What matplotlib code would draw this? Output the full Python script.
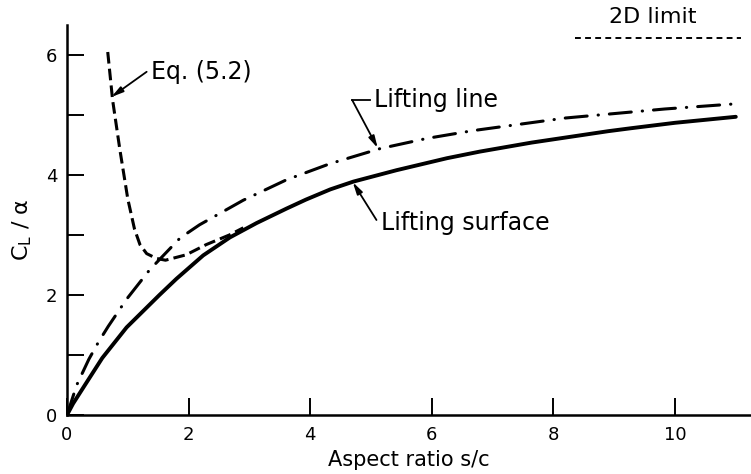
import numpy as np
import matplotlib
matplotlib.use("Agg")
import matplotlib.pyplot as plt

# Valores (C_L/alpha em função do alongamento s/c)
surf_x = [0, 0.1, 0.27, 0.58, 0.98, 1.52, 1.80, 2.24, 2.68, 3.12, 3.61, 3.93, 4.33, 4.71,
          5.42, 6.25, 6.79, 7.64, 8.9, 9.28, 10.0, 11.0]
surf_y = [0, 0.19, 0.46, 0.95, 1.46, 2.00, 2.27, 2.66, 2.96, 3.20, 3.44, 3.59, 3.76, 3.89,
          4.08, 4.28, 4.39, 4.54, 4.73, 4.78, 4.87, 4.97]

line_x = [0, 0.16, 0.36, 0.52, 0.68, 0.98, 1.36, 1.86, 2.18, 2.9, 3.61, 4.33, 5.15, 5.92,
          6.68, 8.2, 9.83, 11.05]
line_y = [0, 0.50, 0.93, 1.22, 1.48, 1.93, 2.42, 2.95, 3.17, 3.58, 3.92, 4.19, 4.44, 4.61,
          4.74, 4.95, 5.10, 5.19]

eq_x = [0.67, 0.75, 0.87, 1.0, 1.11, 1.2, 1.31, 1.47, 1.62, 1.96, 2.29, 2.67, 2.9]
eq_y = [6.05, 5.25, 4.42, 3.6, 3.1, 2.84, 2.69, 2.61, 2.58, 2.67, 2.84, 3.0, 3.12]

limit_2d = 2 * np.pi
limit_x = [8.36, 11.08]

plt.rcParams["font.family"] = "DejaVu Sans"

fig = plt.figure(figsize=(7.51, 4.74), dpi=100)
ax = fig.add_axes([67 / 751, 1 - 415 / 474, (751 - 67) / 751, 390 / 474])

ax.plot(surf_x, surf_y, color="black", lw=2.8, solid_capstyle="round",
        solid_joinstyle="round")
ax.plot(line_x, line_y, color="black", lw=2.2, dashes=(7.2, 3.6, 0.1, 3.6),
        dash_capstyle="round", dash_joinstyle="round")
ax.plot(eq_x, eq_y, color="black", lw=2.2, dashes=(3.8, 1.7), dash_joinstyle="round")
ax.plot(limit_x, [limit_2d, limit_2d], color="black", lw=1.4, dashes=(3, 2.2),
        clip_on=False)

ax.set_xlim(0, 11.25)
ax.set_ylim(0, 6.5)
ax.set_xticks([0, 2, 4, 6, 8, 10])
ax.set_yticks([0, 1, 2, 3, 4, 5, 6])
ax.set_yticklabels(["0", "", "2", "", "4", "", "6"])
ax.tick_params(direction="in", length=12, width=1.4, labelsize=13, colors="black")
ax.tick_params(axis="x", pad=8)
ax.tick_params(axis="y", pad=7)
for s in ["top", "right"]:
    ax.spines[s].set_visible(False)
for s in ["left", "bottom"]:
    ax.spines[s].set_linewidth(1.8)

ax.set_xlabel("Aspect ratio s/c", fontsize=15, labelpad=4)
ax.set_ylabel("C$_\\mathregular{L}$ / α", fontsize=16)
ax.yaxis.set_label_coords(-0.048, 0.474)

# Rótulos das curvas com setas
arrow = dict(arrowstyle="-|>,head_length=0.7,head_width=0.18", color="black",
             lw=1.3, shrinkA=0, shrinkB=0)
ax.text(1.38, 5.72, "Eq. (5.2)", fontsize=17, va="center", ha="left")
ax.annotate("", xy=(0.73, 5.30), xytext=(1.31, 5.72), arrowprops=arrow)

ax.text(5.05, 5.25, "Lifting line", fontsize=17, va="center", ha="left")
ax.plot([4.69, 4.98], [5.25, 5.25], color="black", lw=1.3)
ax.annotate("", xy=(5.11, 4.45), xytext=(4.69, 5.25), arrowprops=arrow)

ax.text(5.17, 3.2, "Lifting surface", fontsize=17, va="center", ha="left")
ax.annotate("", xy=(4.70, 3.88), xytext=(5.09, 3.25), arrowprops=arrow)

ax.text(9.64, 6.63, "2D limit", fontsize=16, va="center", ha="center", clip_on=False)

plt.savefig("out.png", dpi=100)
